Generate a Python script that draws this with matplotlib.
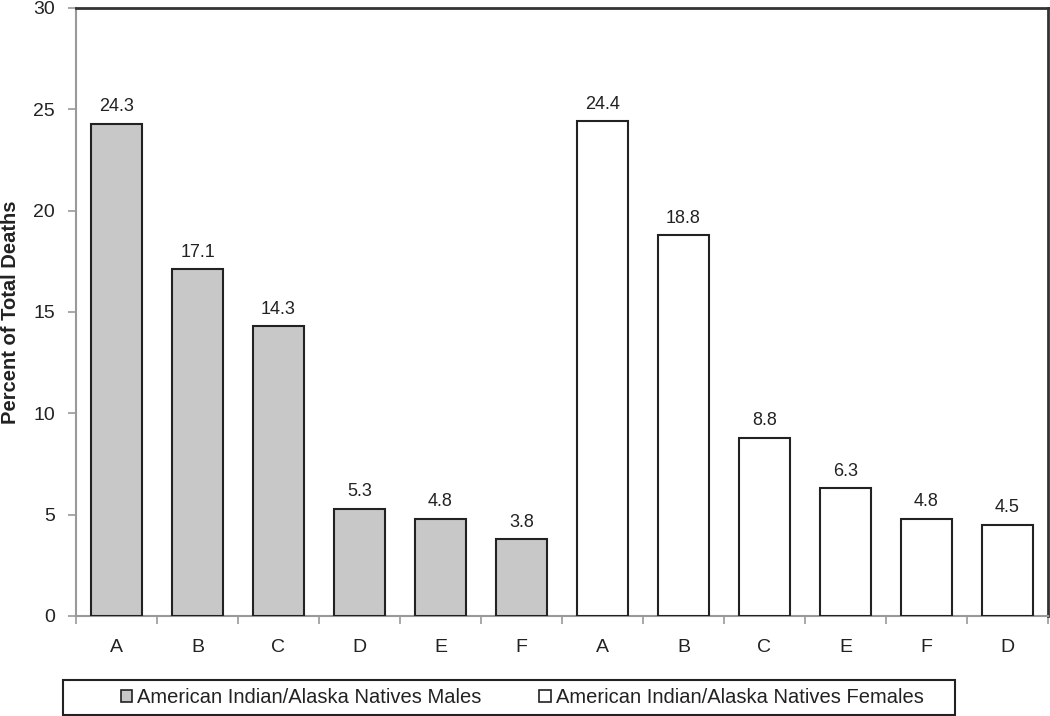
import matplotlib.pyplot as plt
from matplotlib.patches import Patch, Rectangle
from matplotlib.ticker import FixedLocator

plt.rcParams['font.family'] = ['Liberation Sans', 'DejaVu Sans']

male_labels = ["A", "B", "C", "D", "E", "F"]
male_values = [24.3, 17.1, 14.3, 5.3, 4.8, 3.8]
female_labels = ["A", "B", "C", "E", "F", "D"]
female_values = [24.4, 18.8, 8.8, 6.3, 4.8, 4.5]

fig = plt.figure(figsize=(10.5, 7.16), dpi=100)
ax = fig.add_axes([76 / 1050, 1 - 616 / 716, 972 / 1050, 608 / 716])

n_m = len(male_values)
xm = list(range(n_m))
xf = list(range(n_m, n_m + len(female_values)))

ax.bar(xm, male_values, width=0.63, color="#c8c8c8", edgecolor="#222222", linewidth=1.5, zorder=3)
ax.bar(xf, female_values, width=0.63, color="white", edgecolor="#222222", linewidth=1.5, zorder=3)

for x, v in zip(xm + xf, male_values + female_values):
    ax.annotate(f"{v:.1f}", (x, v), xytext=(0, 6), textcoords="offset points",
                ha="center", va="bottom", fontsize=13, color="#222222")

ax.set_xlim(-0.5, 11.5)
ax.set_ylim(0, 30)
ax.set_yticks(range(0, 31, 5))
ax.set_xticks(xm + xf)
ax.set_xticklabels(male_labels + female_labels)
ax.xaxis.set_minor_locator(FixedLocator([i + 0.5 for i in range(-1, 12)]))

ax.tick_params(axis="x", which="major", length=0, pad=16.5, labelsize=14, labelcolor="#222222")
ax.tick_params(axis="x", which="minor", length=6, width=1.2, color="#999999", direction="out")
ax.tick_params(axis="y", length=6, width=1.2, color="#999999", pad=9, labelsize=14, labelcolor="#222222")

for s in ["left", "bottom"]:
    ax.spines[s].set_color("#999999")
    ax.spines[s].set_linewidth(1.5)
for s in ["top", "right"]:
    ax.spines[s].set_color("#333333")
    ax.spines[s].set_linewidth(2)

ax.set_ylabel("Percent of Total Deaths", fontsize=14.5, fontweight="bold", color="#222222")
ax.yaxis.set_label_coords(-56 / 972, 0.5)

handles = [Patch(facecolor="#c8c8c8", edgecolor="#222222", linewidth=1.2),
           Patch(facecolor="white", edgecolor="#222222", linewidth=1.2)]
fig.legend(handles, ["American Indian/Alaska Natives Males", "American Indian/Alaska Natives Females"],
           loc="center", bbox_to_anchor=(522 / 1050, 1 - 697.5 / 716), ncol=2, frameon=False,
           fontsize=14.5, handlelength=0.55, handleheight=0.55, handletextpad=0.25, columnspacing=2.9,
           borderpad=0, labelcolor="#222222")
fig.patches.append(Rectangle((63 / 1050, 1 - 715 / 716), 892 / 1050, 35 / 716,
                             transform=fig.transFigure, fill=False, edgecolor="#222222", linewidth=1.5))

fig.savefig("out.png", dpi=100)
